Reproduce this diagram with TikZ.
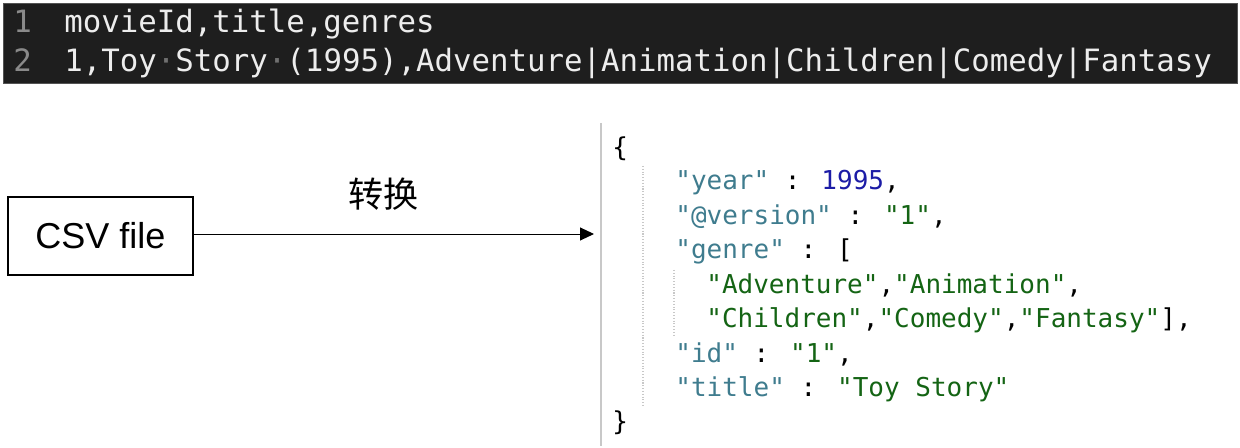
\documentclass[tikz,border=0pt]{standalone}
\usepackage{fontspec}
\setmainfont{Liberation Sans}
\newfontfamily\codefont{DejaVu Sans Mono}
\newfontfamily\cjkfont{Noto Sans CJK SC}
\usetikzlibrary{arrows.meta}
\usetikzlibrary{positioning}

\definecolor{editorbg}{HTML}{1E1E1E}
\definecolor{codewhite}{HTML}{EDEDED}
\definecolor{lnumgray}{HTML}{8A8A8A}
\definecolor{dotgray}{HTML}{707070}
\definecolor{jkey}{HTML}{3F7C8E}
\definecolor{jstr}{HTML}{146414}
\definecolor{jnum}{HTML}{1C1CA6}
\definecolor{guidegray}{HTML}{C8C8C8}

\newcommand{\spdot}{\textcolor{dotgray}{·}}
\newcommand{\jk}[1]{\textcolor{jkey}{#1}}
\newcommand{\js}[1]{\textcolor{jstr}{#1}}
\newcommand{\jn}[1]{\textcolor{jnum}{#1}}

\begin{document}
\begin{tikzpicture}[x=0.02cm,y=-0.02cm,
    lnum/.style={anchor=base west,inner sep=0,text=lnumgray,font={\codefont\fontsize{17.5}{21}\selectfont}},
    csvline/.style={anchor=base west,inner sep=0,text=codewhite,font={\codefont\fontsize{17.5}{21}\selectfont}},
    jline/.style={anchor=base west,inner sep=0,font={\codefont\fontsize{14.8}{18}\selectfont}},
    filebox/.style={draw,line width=0.7pt,minimum width=3.7cm,minimum height=1.56cm,font=\fontsize{20.5}{24}\selectfont}]
    \useasboundingbox (0,0) rectangle (1240,448);
    % editor strip with the csv file
    \fill[editorbg] (3,3) rectangle (1237,83);
    \draw[lnumgray!60!black] (3,3) rectangle (1237,83);
    \node[lnum] (n1) at (13,33) {1};
    \node[csvline] (l1) at (64,33) {movieId,title,genres};
    \node[lnum] (n2) at (13,72) {2};
    \node[csvline] (l2) at (64,72) {1,Toy\spdot Story\spdot (1995),Adventure|Animation|Children|Comedy|Fantasy};

    % left part
    \node[filebox] (csv) at (100.5,236) {CSV file};
    \coordinate (json) at (594,234);
    \draw[-{Triangle[length=0.28cm,width=0.26cm]},line width=0.55pt] (csv.east |- json) to node[above=0.35cm,xshift=-0.2cm] (conv) {\cjkfont\fontsize{20}{24}\selectfont 转换} (json);

    % json document
    \draw[guidegray,line width=0.8pt] (601,123) -- (601,446);
    \draw[guidegray,densely dotted,line width=0.6pt] (643,166) -- (643,406);
    \draw[guidegray,densely dotted,line width=0.6pt] (674,270) -- (674,336);
    \node[jline] (j0) at (612,157) {\{};
    \node[jline] (j1) at (675,190) {\jk{"year"} : \jn{1995},};
    \node[jline] (j2) at (675,224.5) {\jk{"@version"} : \js{"1"},};
    \node[jline] (j3) at (675,259) {\jk{"genre"} : [};
    \node[jline] (j4) at (706,293.5) {\js{"Adventure"},\js{"Animation"},};
    \node[jline] (j5) at (706,328) {\js{"Children"},\js{"Comedy"},\js{"Fantasy"}],};
    \node[jline] (j6) at (675,362.5) {\jk{"id"} : \js{"1"},};
    \node[jline] (j7) at (675,397) {\jk{"title"} : \js{"Toy Story"}};
    \node[jline] (j8) at (612,431) {\}};
\end{tikzpicture}
\end{document}
